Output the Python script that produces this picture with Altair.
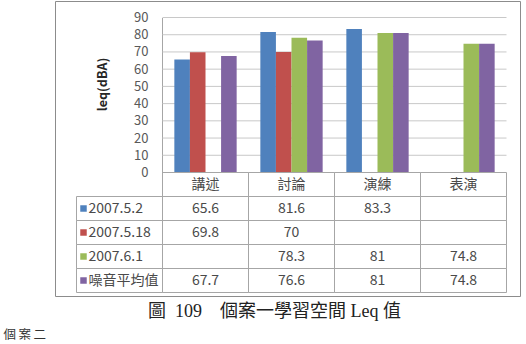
import altair as alt
import pandas as pd

# ---- data -------------------------------------------------------------
categories = ["講述", "討論", "演練", "表演"]
series = ["2007.5.2", "2007.5.18", "2007.6.1", "噪音平均值"]
series_colors = ["#4F81BD", "#C0504D", "#9BBB59", "#8064A2"]

leq_0502 = [65.6, 81.6, 83.3, None]
leq_0518 = [69.8, 70, None, None]
leq_0601 = [None, 78.3, 81, 74.8]
leq_mean = [67.7, 76.6, 81, 74.8]

y_ticks = [0, 10, 20, 30, 40, 50, 60, 70, 80, 90]
y_title = "leq(dBA)"
caption = "圖\u2002109\u2003個案一學習空間 Leq 值"
next_heading = "個\u2009案\u2009二"

# ---- tables built from the arrays ------------------------------------
LABEL_COL = "圖例"
columns = [LABEL_COL] + categories
rows = ["header"] + series + ["caption", "next"]

series_values = dict(zip(series, [leq_0502, leq_0518, leq_0601, leq_mean]))

bar_records, cell_records, text_records = [], [], []
for s in series:
    for c, v in zip(categories, series_values[s]):
        if v is not None:
            bar_records.append({"cat": c, "series": s, "value": v})
            text_records.append({"col": c, "row": s, "label": f"{v:g}"})
    for col in columns:
        cell_records.append({"col": col, "row": s})
for c in categories:
    cell_records.append({"col": c, "row": "header"})

bars_df = pd.DataFrame(bar_records)
cells_df = pd.DataFrame(cell_records)
values_df = pd.DataFrame(text_records)
header_df = pd.DataFrame({"col": categories, "row": "header", "label": categories})
legend_df = pd.DataFrame({"col": LABEL_COL, "row": series, "series": series})
grid_df = pd.DataFrame({"value": y_ticks[1:], "x0": categories[0], "x1": categories[-1]})
notes_df = pd.DataFrame(
    {"col": [categories[1], LABEL_COL], "row": ["caption", "next"], "label": [caption, next_heading]}
)

# ---- geometry / scales -------------------------------------------------
W, H = 465, 295
FONT = "Noto Sans CJK TC"
SERIF = "Liberation Serif, Noto Sans CJK TC"
TEXT = "#4a4a4a"
LINE = "#a6a6a6"

x_range = [21.5, 451.5]
step = (x_range[1] - x_range[0]) / len(columns)
plot_left = x_range[0] + step

x_scale = alt.Scale(domain=columns, range=x_range, paddingInner=0, paddingOuter=0)
y_val = alt.Scale(domain=[0, 90], range=[171.5, 16.5], nice=False)
row_step = 24
y_row = alt.Scale(domain=rows, range=[171.5, 171.5 + row_step * len(rows)],
                  paddingInner=0, paddingOuter=0)
color_scale = alt.Scale(domain=series, range=series_colors)

# gridlines across the plot area
grid = alt.Chart(grid_df).mark_rule(color="#c8c8c8", strokeWidth=1).encode(
    x=alt.X("x0:N", scale=x_scale, axis=None, bandPosition=0),
    x2=alt.X2("x1", bandPosition=1),
    y=alt.Y("value:Q", scale=y_val, axis=None),
)

bars = alt.Chart(bars_df).mark_bar().encode(
    x=alt.X("cat:N", scale=x_scale, axis=None),
    xOffset=alt.XOffset("series:N", scale=alt.Scale(domain=series, paddingInner=0, paddingOuter=0.76)),
    y=alt.Y(
        "value:Q",
        scale=y_val,
        axis=alt.Axis(
            orient="left",
            offset=-int(plot_left),
            values=y_ticks,
            grid=False,
            ticks=False,
            labelPadding=14,
            labelFont=FONT,
            labelFontSize=13,
            labelColor="#595959",
            domainColor=LINE,
            title=y_title,
            titleFont=FONT,
            titleFontSize=12.5,
            titleFontWeight="bold",
            titleColor="#262626",
            titleAngle=-90,
            titleX=-60,
            titleY=83,
            titleAlign="center",
            titleBaseline="middle",
        ),
    ),
    color=alt.Color("series:N", scale=color_scale, legend=None),
)

cells = alt.Chart(cells_df).mark_rect(fillOpacity=0, stroke=LINE, strokeWidth=1).encode(
    x=alt.X("col:N", scale=x_scale, axis=None),
    y=alt.Y("row:N", scale=y_row, axis=None),
)

header_text = alt.Chart(header_df).mark_text(font=FONT, fontSize=14, color=TEXT).encode(
    x=alt.X("col:N", scale=x_scale, axis=None),
    y=alt.Y("row:N", scale=y_row, axis=None),
    text="label:N",
)

value_text = alt.Chart(values_df).mark_text(font=FONT, fontSize=14, color=TEXT).encode(
    x=alt.X("col:N", scale=x_scale, axis=None),
    y=alt.Y("row:N", scale=y_row, axis=None),
    text="label:N",
)

legend_squares = alt.Chart(legend_df).mark_square(size=42, opacity=1, xOffset=7).encode(
    x=alt.X("col:N", scale=x_scale, axis=None, bandPosition=0),
    y=alt.Y("row:N", scale=y_row, axis=None),
    color=alt.Color("series:N", scale=color_scale, legend=None),
)

legend_text = alt.Chart(legend_df).mark_text(
    font=FONT, fontSize=14, color=TEXT, align="left", dx=12
).encode(
    x=alt.X("col:N", scale=x_scale, axis=None, bandPosition=0),
    y=alt.Y("row:N", scale=y_row, axis=None),
    text="series:N",
)

caption_text = alt.Chart(notes_df.iloc[[0]]).mark_text(
    font=SERIF, fontSize=18, color="#222222", align="center", dx=26, dy=7.5,
).encode(
    x=alt.X("col:N", scale=x_scale, axis=None, bandPosition=0),
    y=alt.Y("row:N", scale=y_row, axis=None),
    text="label:N",
)

heading_text = alt.Chart(notes_df.iloc[[1]]).mark_text(
    font=SERIF, fontSize=12.5, color="#333333", align="left", dx=-73, dy=6.5,
).encode(
    x=alt.X("col:N", scale=x_scale, axis=None, bandPosition=0),
    y=alt.Y("row:N", scale=y_row, axis=None),
    text="label:N",
)

chart = (
    alt.layer(grid, bars, cells, header_text, value_text, legend_squares, legend_text,
              caption_text, heading_text)
    .resolve_scale(y="independent")
    .properties(
        width=W,
        height=H,
        autosize=alt.AutoSizeParams(type="none"),
        padding={"left": 55, "top": 1, "right": 6, "bottom": 48},
        background="white",
    )
    .configure_view(stroke="#8c8c8c", strokeWidth=1)
)

chart.save("out.html", embed_options={"renderer": "svg", "actions": False})
